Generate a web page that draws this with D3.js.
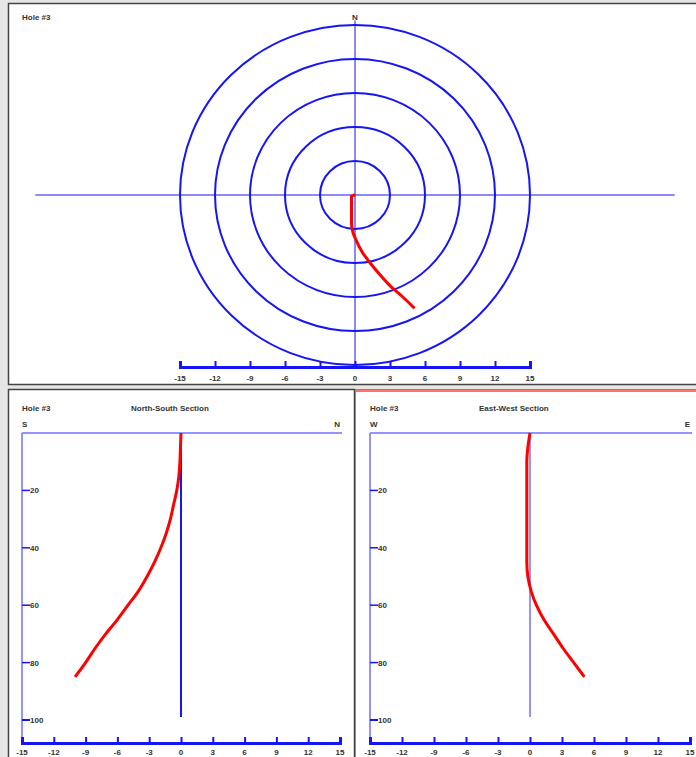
<!DOCTYPE html>
<html>
<head>
<meta charset="utf-8">
<script src="https://cdn.jsdelivr.net/npm/d3@7"></script>
<style>
  body { margin: 0; background: #e6e6e6; }
  svg { display: block; }
  text { font-family: "Liberation Sans", Arial, sans-serif; font-size: 8px; font-weight: bold; fill: #333; }
</style>
</head>
<body>
<svg id="chart" width="696" height="757"></svg>
<script>
// survey stations of Hole #3 (depth, northing, easting), read from the sections
const depths   = [0, 5, 10, 15, 20, 25, 30, 35, 40, 45, 50, 55, 60, 65, 70, 75, 80, 85];
const northing = [0, -0.05, -0.1, -0.2, -0.4, -0.7, -1.0, -1.4, -1.9, -2.5, -3.2, -4.0, -5.0, -6.0, -7.1, -8.1, -9.0, -10.0];
const easting  = [0, -0.2, -0.3, -0.3, -0.3, -0.3, -0.3, -0.3, -0.3, -0.3, -0.2, 0.1, 0.6, 1.3, 2.2, 3.1, 4.1, 5.1];

const ringRadii = [3, 6, 9, 12, 15];
const offsetTicks = [-15, -12, -9, -6, -3, 0, 3, 6, 9, 12, 15];
const depthTicks = [20, 40, 60, 80, 100];
const holeDepth = 100;
const crossHalf = 27.4;   // half length of the plan view cross hair

const svg = d3.select('#chart');
const blue = '#1515f5';
const lightBlue = '#7070ff';

// panel frames
svg.append('rect').attr('x', 8.5).attr('y', 3.5).attr('width', 700).attr('height', 381)
   .attr('fill', '#fff').attr('stroke', '#444').attr('stroke-width', 1.5);
svg.append('rect').attr('x', 8.5).attr('y', 389.5).attr('width', 346).attr('height', 380)
   .attr('fill', '#fff').attr('stroke', '#444').attr('stroke-width', 1.5);
svg.append('rect').attr('x', 355.5).attr('y', 389.5).attr('width', 350).attr('height', 380)
   .attr('fill', '#fff').attr('stroke', '#888').attr('stroke-width', 1);
svg.append('line').attr('x1', 356).attr('x2', 696).attr('y1', 391).attr('y2', 391)
   .attr('stroke', '#ff7070').attr('stroke-width', 2);

const stations = depths.map((d, i) => ({ depth: d, n: northing[i], e: easting[i] }));

// ---------- plan view ----------
const px = d3.scaleLinear().domain([-15, 15]).range([180, 530]);
const py = d3.scaleLinear().domain([15, -15]).range([25, 365]);

const plan = svg.append('g');
plan.append('line')
    .attr('x1', px(-crossHalf)).attr('x2', px(crossHalf))
    .attr('y1', py(0)).attr('y2', py(0))
    .attr('stroke', blue).attr('stroke-width', 1);
plan.append('line')
    .attr('x1', px(0)).attr('x2', px(0))
    .attr('y1', py(15.4)).attr('y2', py(-15))
    .attr('stroke', blue).attr('stroke-width', 1);

plan.selectAll('ellipse')
    .data(ringRadii)
    .enter()
    .append('ellipse')
    .attr('cx', px(0)).attr('cy', py(0))
    .attr('rx', r => px(r) - px(0))
    .attr('ry', r => py(-r) - py(0))
    .attr('fill', 'none')
    .attr('stroke', blue)
    .attr('stroke-width', 2);

plan.append('path')
    .datum(stations)
    .attr('d', d3.line().x(d => px(d.e)).y(d => py(d.n)).curve(d3.curveMonotoneY))
    .attr('fill', 'none')
    .attr('stroke', '#f00')
    .attr('stroke-width', 3);

const planAxis = plan.append('g').attr('transform', `translate(0,${py(-15) + 2})`);
planAxis.call(d3.axisTop(px).tickValues(offsetTicks).tickSize(6).tickFormat(''));
planAxis.selectAll('path, line').attr('stroke', blue).attr('stroke-width', 2);
planAxis.select('.domain').attr('stroke-width', 3);
planAxis.selectAll('.lbl')
    .data(offsetTicks)
    .enter()
    .append('text')
    .attr('x', d => px(d))
    .attr('y', 14)
    .attr('text-anchor', 'middle')
    .text(d => d);

svg.append('text').attr('x', 22).attr('y', 20).text('Hole #3');
svg.append('text').attr('x', px(0)).attr('y', 20).attr('text-anchor', 'middle').text('N');

// ---------- sections ----------
const dy = d3.scaleLinear().domain([0, 100]).range([433, 720]);

function section(x0, x1, key, title, leftLbl, rightLbl, zeroColor) {
    const sx = d3.scaleLinear().domain([-15, 15]).range([x0, x1]);
    const g = svg.append('g');

    // frame lines
    g.append('line').attr('x1', sx(-15)).attr('x2', sx(15) + 2)
        .attr('y1', dy(0)).attr('y2', dy(0))
        .attr('stroke', lightBlue).attr('stroke-width', 1.5);
    g.append('line').attr('x1', sx(-15)).attr('x2', sx(-15))
        .attr('y1', dy(0)).attr('y2', 743)
        .attr('stroke', lightBlue).attr('stroke-width', 1.5);

    // hole line at zero offset
    g.append('line').attr('x1', sx(0)).attr('x2', sx(0))
        .attr('y1', dy(0)).attr('y2', dy(holeDepth) - 3)
        .attr('stroke', zeroColor).attr('stroke-width', zeroColor === blue ? 2 : 1.5);

    // depth ticks
    g.selectAll('.dt')
        .data(depthTicks)
        .enter()
        .append('line')
        .attr('x1', sx(-15)).attr('x2', sx(-15) + 8)
        .attr('y1', d => dy(d)).attr('y2', d => dy(d))
        .attr('stroke', blue).attr('stroke-width', d => d === 100 ? 2 : 1.5);
    g.selectAll('.dl')
        .data(depthTicks)
        .enter()
        .append('text')
        .attr('x', sx(-15) + 8)
        .attr('y', d => dy(d) + 3)
        .text(d => d);

    // offset axis
    const ax = g.append('g').attr('transform', 'translate(0,743)');
    ax.call(d3.axisTop(sx).tickValues(offsetTicks).tickSize(6).tickFormat(''));
    ax.selectAll('path, line').attr('stroke', blue).attr('stroke-width', 2);
    ax.select('.domain').attr('stroke-width', 3);
    ax.selectAll('.lbl')
        .data(offsetTicks)
        .enter()
        .append('text')
        .attr('x', d => sx(d))
        .attr('y', 12)
        .attr('text-anchor', 'middle')
        .text(d => d);

    // hole trace
    g.append('path')
        .datum(stations)
        .attr('d', d3.line().x(d => sx(d[key])).y(d => dy(d.depth)).curve(d3.curveMonotoneY))
        .attr('fill', 'none')
        .attr('stroke', '#f00')
        .attr('stroke-width', 3);

    g.append('text').attr('x', x0).attr('y', 411).text('Hole #3');
    g.append('text').attr('x', x0 + 109).attr('y', 411).text(title);
    g.append('text').attr('x', x0).attr('y', 427).text(leftLbl);
    g.append('text').attr('x', x1).attr('y', 427).attr('text-anchor', 'end').text(rightLbl);
}

section(22, 340, 'n', 'North-South Section', 'S', 'N', blue);
section(370, 690, 'e', 'East-West Section', 'W', 'E', lightBlue);
</script>
</body>
</html>
